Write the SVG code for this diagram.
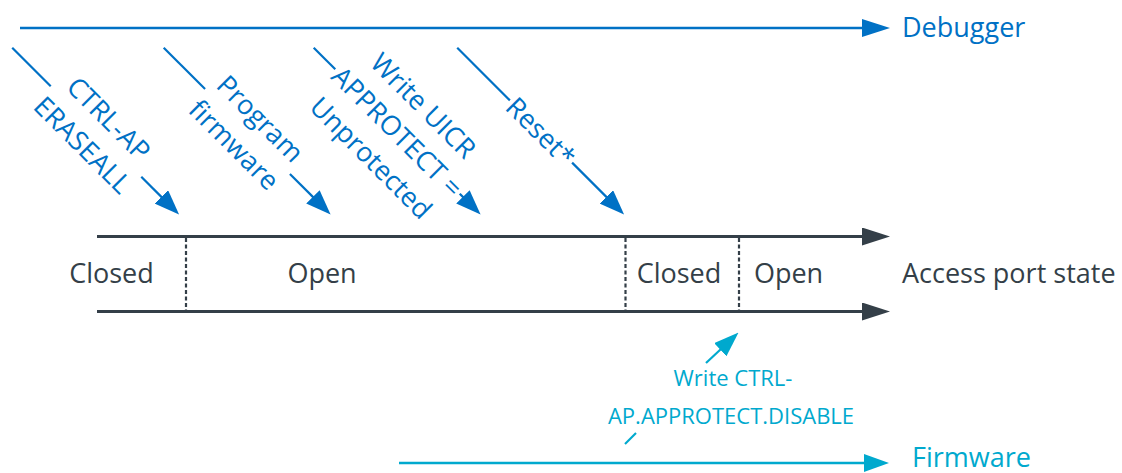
<svg xmlns="http://www.w3.org/2000/svg" width="1122" height="473" viewBox="0 0 1122 473">
  <style>
    .t { font-family: "Open Sans", "Liberation Sans", sans-serif; }
    .dark { fill: #343F48; font-size: 27px; }
    .blue { fill: #0071C5; font-size: 27px; }
    .cyan { fill: #00A9CE; }
    .lblue { stroke: #0071C5; fill: none; }
    .lcyan { stroke: #00A9CE; fill: none; }
    .ldark { stroke: #343F48; fill: none; }
  </style>
  <defs>
    <marker id="ahBlueL" markerUnits="userSpaceOnUse" viewBox="0 0 28 18" refX="1" refY="9" markerWidth="28" markerHeight="18" orient="auto">
      <path d="M0,0 L28,9 L0,18 z" fill="#0071C5"/>
    </marker>
    <marker id="ahBlue" markerUnits="userSpaceOnUse" viewBox="0 0 25 19" refX="1" refY="9.5" markerWidth="25" markerHeight="19" orient="auto">
      <path d="M0,0 L25,9.5 L0,19 z" fill="#0071C5"/>
    </marker>
    <marker id="ahDark" markerUnits="userSpaceOnUse" viewBox="0 0 28 18" refX="1" refY="9" markerWidth="28" markerHeight="18" orient="auto">
      <path d="M0,0 L28,9 L0,18 z" fill="#343F48"/>
    </marker>
    <marker id="ahCyan" markerUnits="userSpaceOnUse" viewBox="0 0 25 18" refX="1" refY="9" markerWidth="25" markerHeight="18" orient="auto">
      <path d="M0,0 L25,9 L0,18 z" fill="#00A9CE"/>
    </marker>
  </defs>

  <!-- Lanes -->
  <g id="debugger-lane">
    <line class="lblue" x1="20" y1="28" x2="863" y2="28" stroke-width="2.6" marker-end="url(#ahBlueL)"/>
    <text class="t blue" x="902" y="37">Debugger</text>
  </g>

  <g id="firmware-lane">
    <line class="lcyan" x1="399" y1="463" x2="865" y2="463" stroke-width="2.6" marker-end="url(#ahCyan)"/>
    <text class="t cyan" x="912" y="467" font-size="27">Firmware</text>
  </g>

  <g id="access-port">
    <line class="ldark" x1="97" y1="236.5" x2="863" y2="236.5" stroke-width="2.8" marker-end="url(#ahDark)"/>
    <line class="ldark" x1="97" y1="311.5" x2="863" y2="311.5" stroke-width="2.8" marker-end="url(#ahDark)"/>
    <g class="ldark" stroke-width="2.2" stroke-dasharray="4 2.5">
      <line x1="186" y1="238" x2="186" y2="310"/>
      <line x1="625.5" y1="238" x2="625.5" y2="310"/>
      <line x1="739" y1="238" x2="739" y2="310"/>
    </g>
    <text class="t dark" x="902" y="283">Access port state</text>
  </g>

  <g id="state-closed-1"><text class="t dark" x="111.5" y="283" text-anchor="middle">Closed</text></g>
  <g id="state-open-1"><text class="t dark" x="322" y="283" text-anchor="middle">Open</text></g>
  <g id="state-closed-2"><text class="t dark" x="679" y="283" text-anchor="middle">Closed</text></g>
  <g id="state-open-2"><text class="t dark" x="788.5" y="283" text-anchor="middle">Open</text></g>

  <!-- Connectors -->
  <g id="connectors">
    <g id="c-eraseall" transform="translate(96,131.5) rotate(45)">
      <line class="lblue" x1="-118.5" y1="0" x2="-64" y2="0" stroke-width="2.2"/>
      <line class="lblue" x1="64" y1="0" x2="93.5" y2="0" stroke-width="2.2" marker-end="url(#ahBlue)"/>
      <text class="t blue" text-anchor="middle"><tspan x="0" y="-8.5">CTRL-AP</tspan><tspan x="0" y="28.5">ERASEALL</tspan></text>
    </g>
    <g id="c-program" transform="translate(247.5,131.5) rotate(45)">
      <line class="lblue" x1="-118.5" y1="0" x2="-60" y2="0" stroke-width="2.2"/>
      <line class="lblue" x1="60" y1="0" x2="93.5" y2="0" stroke-width="2.2" marker-end="url(#ahBlue)"/>
      <text class="t blue" text-anchor="middle"><tspan x="0" y="-8.5">Program</tspan><tspan x="0" y="28.5">firmware</tspan></text>
    </g>
    <g id="c-uicr" transform="translate(397.5,131.5) rotate(45)">
      <line class="lblue" x1="-118.5" y1="0" x2="-88" y2="0" stroke-width="2.2"/>
      <line class="lblue" x1="88" y1="0" x2="93.5" y2="0" stroke-width="2.2" marker-end="url(#ahBlue)"/>
      <text class="t blue" text-anchor="middle"><tspan x="0" y="-27">Write UICR</tspan><tspan x="0" y="10">APPROTECT =</tspan><tspan x="0" y="47">Unprotected</tspan></text>
    </g>
    <g id="c-reset" transform="translate(541,131.5) rotate(45)">
      <line class="lblue" x1="-118.5" y1="0" x2="-44" y2="0" stroke-width="2.2"/>
      <line class="lblue" x1="44" y1="0" x2="93.5" y2="0" stroke-width="2.2" marker-end="url(#ahBlue)"/>
      <text class="t blue" text-anchor="middle" x="0" y="10">Reset*</text>
    </g>
    <g id="c-disable">
      <line class="lcyan" x1="625" y1="444" x2="636" y2="433" stroke-width="2.2"/>
      <line class="lcyan" x1="706" y1="363" x2="721" y2="349" stroke-width="2.2" marker-end="url(#ahCyan)"/>
      <text class="t cyan" font-size="22" text-anchor="middle"><tspan x="733" y="386">Write CTRL-</tspan><tspan x="731" y="424">AP.APPROTECT.DISABLE</tspan></text>
    </g>
  </g>
</svg>
